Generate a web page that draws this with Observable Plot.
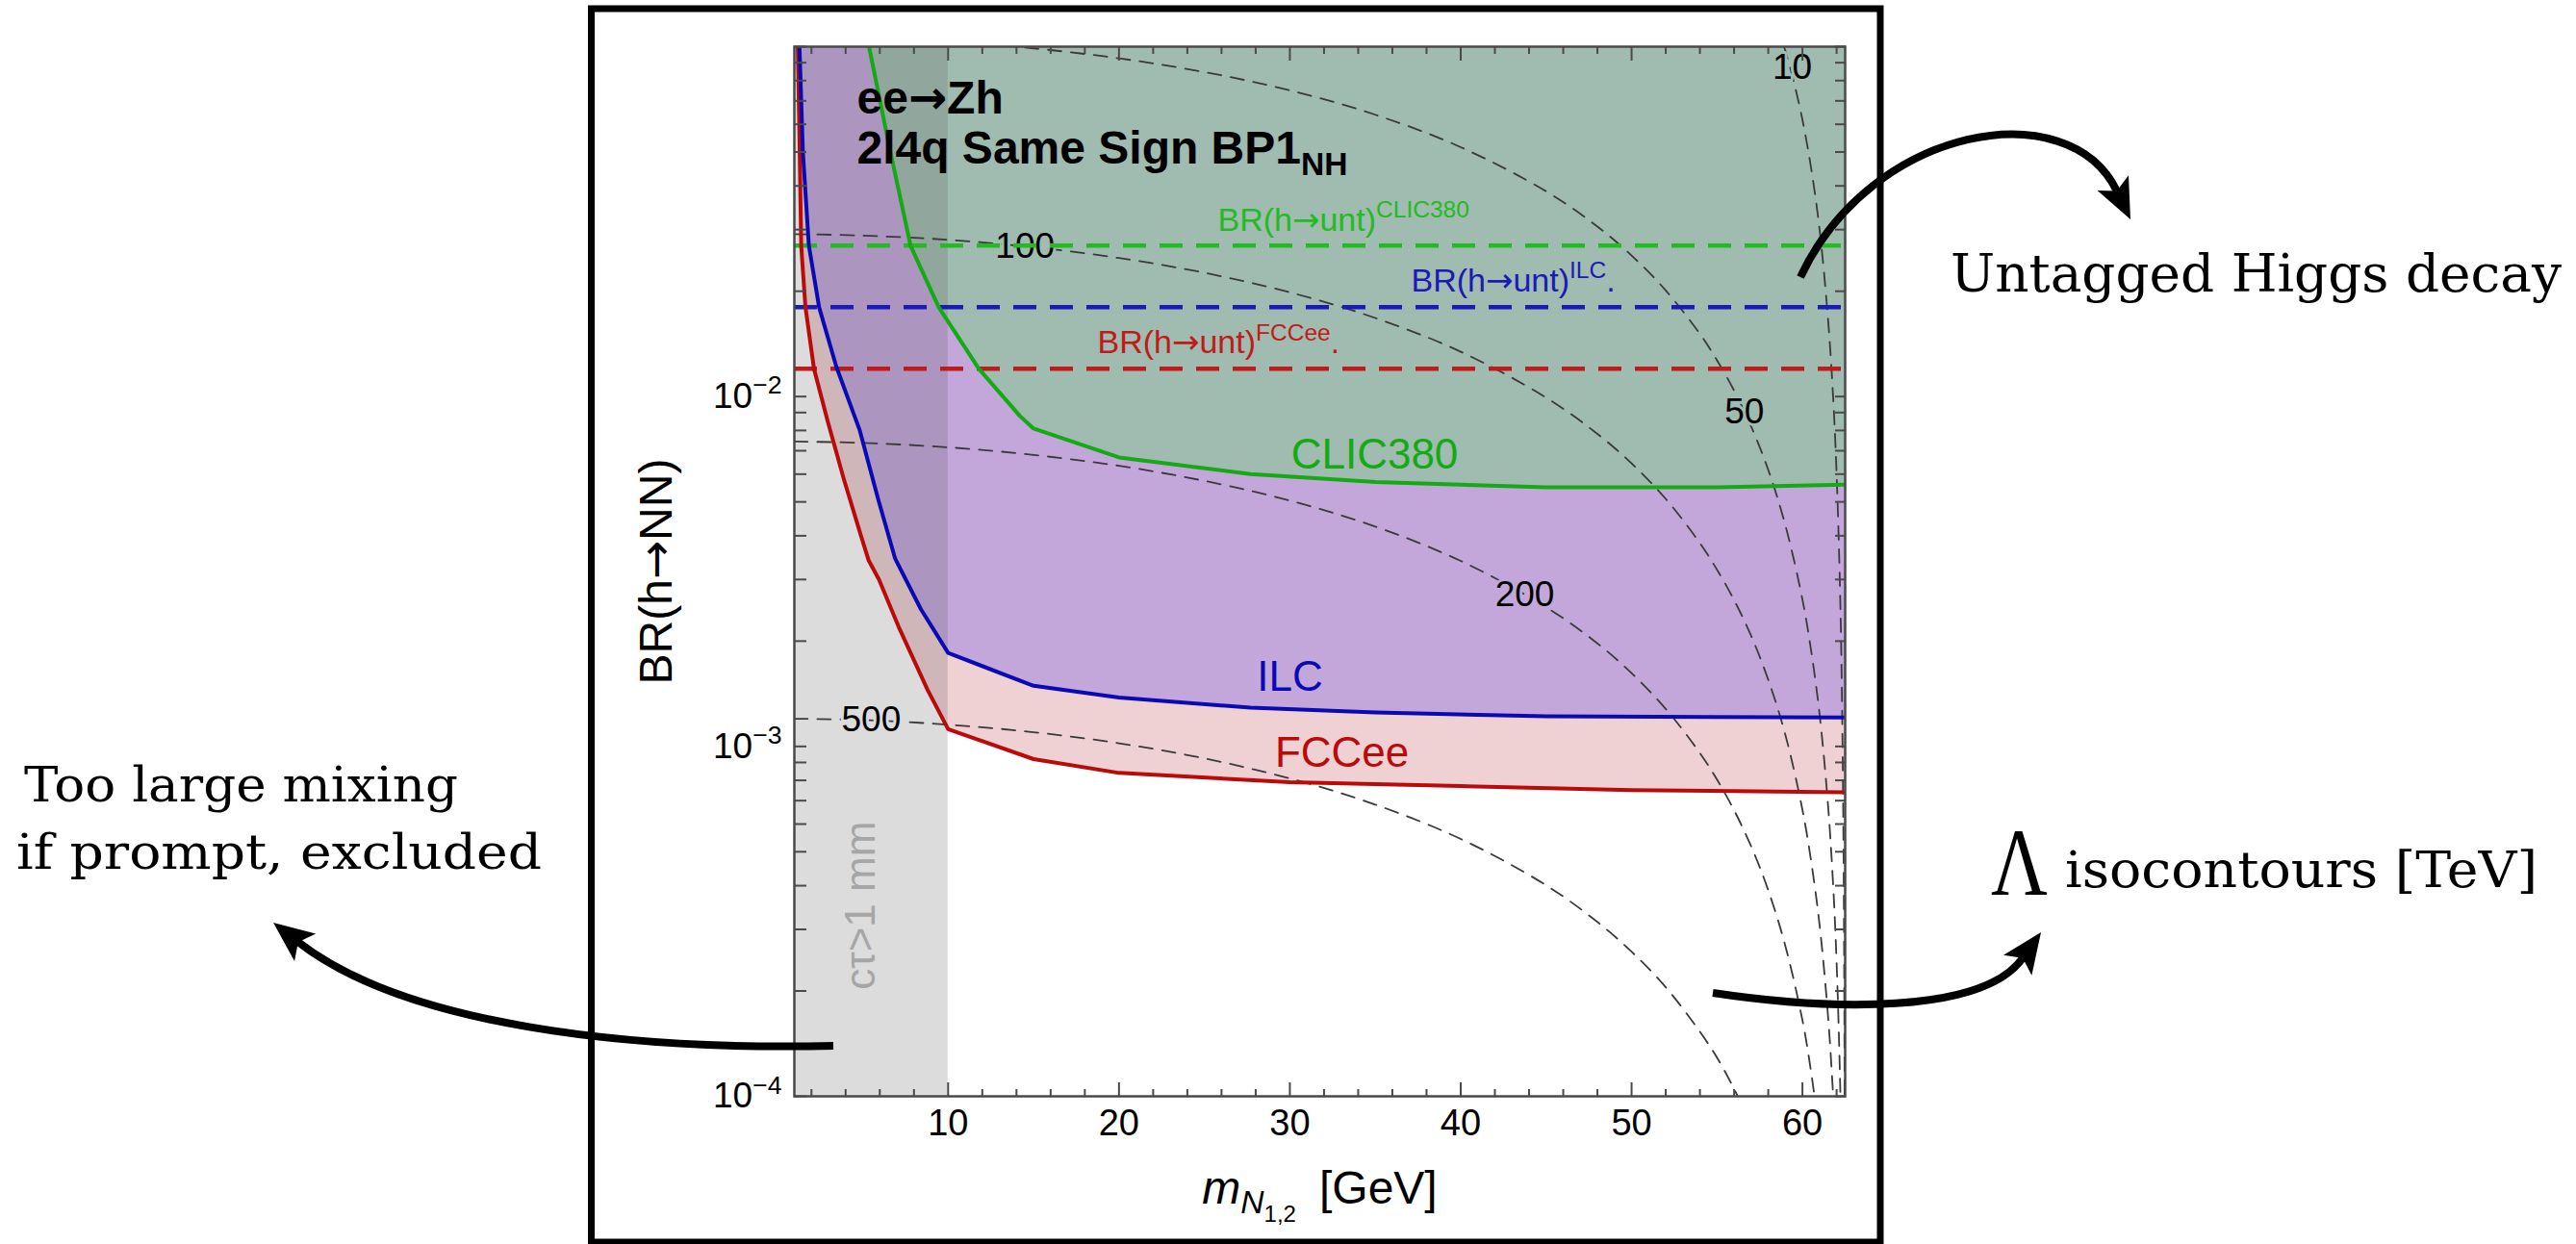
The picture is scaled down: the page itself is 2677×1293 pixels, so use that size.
<!DOCTYPE html>
<html>
<head>
<meta charset="utf-8">
<script src="https://cdn.jsdelivr.net/npm/d3@7"></script>
<script src="https://cdn.jsdelivr.net/npm/@observablehq/plot@0.6"></script>
<style>
  html, body { margin: 0; padding: 0; background: #fff; overflow: hidden; }
  #chart { width: 2677px; height: 1293px; }
</style>
</head>
<body>
<div id="chart"></div>
<script>
// ---------------- data ----------------
const massDomain = [1, 62.5];
const brDomain = [1e-4, 1e-1];
const massTicks = [10, 20, 30, 40, 50, 60];
const massMinorTicks = [2,4,6,8,12,14,16,18,22,24,26,28,32,34,36,38,42,44,46,48,52,54,56,58,62];
const brTicks = [1e-4, 1e-3, 1e-2, 1e-1];
const brMinorTicks = [2e-4,3e-4,4e-4,5e-4,6e-4,7e-4,8e-4,9e-4,
                      2e-3,3e-3,4e-3,5e-3,6e-3,7e-3,8e-3,9e-3,
                      2e-2,3e-2,4e-2,5e-2,6e-2,7e-2,8e-2,9e-2];
const brTickLabels = [[1e-4, "10^{−4}"], [1e-3, "10^{−3}"], [1e-2, "10^{−2}"]];

// c*tau > 1 mm region (mass range)
const promptBand = [[1, 10]];

// untagged Higgs decay BR per collider
const untaggedColliders = ["CLIC380", "ILC", "FCCee"];
const untaggedBR = [0.027, 0.018, 0.012];

// exclusion limits  [m_N (GeV), BR(h->NN)]
const clicLimit = [[5.37,0.1],[6.55,0.052],[7.8,0.027],[9.45,0.018],[11.8,0.012],[14.2,0.0088],[15,0.0081],
  [20,0.0067],[27.7,0.0060],[35,0.0057],[45,0.0055],[55,0.0055],[62.5,0.0056]];
const ilcLimit = [[1.3,0.1],[1.5,0.05],[1.85,0.027],[2.45,0.018],[3.45,0.0122],[4.83,0.0080],[5.9,0.0051],
  [6.9,0.00344],[8.4,0.00247],[10,0.00185],[15,0.00149],[20,0.00138],[27.7,0.00129],[35,0.00125],[45,0.00122],[62.5,0.00121]];
const fccLimit = [[1.2,0.1],[1.3,0.055],[1.4,0.027],[1.65,0.018],[2.15,0.012],[2.95,0.0085],[3.9,0.0058],[4.9,0.0040],
  [5.35,0.0034],[5.95,0.0030],[7.1,0.0022],[8.8,0.00145],[10,0.00112],[15,0.00092],[20,0.00084],[30,0.00079],
  [40,0.00077],[50,0.00075],[62.5,0.00074]];

// Lambda iso-contours [TeV]
const lambda10 = [[58,0.134],[58.5,0.1157],[59,0.0973],[59.5,0.0792],[60,0.0618],[60.5,0.0452],[61,0.0301],[61.5,0.0166],
  [61.8,0.00988],[62,0.0060],[62.2,0.0028],[62.3,0.00153],[62.4,0.00054],[62.45,0.00019],[62.48,0.0000486]];
const lambda50 = [[1,0.1071],[5,0.1062],[10,0.1035],[15,0.0989],[20,0.0926],[25,0.0846],[30,0.0750],[35,0.0639],[40,0.0516],
  [45,0.0386],[48,0.0306],[50,0.0253],[52,0.0201],[54,0.0151],[55,0.0127],[56,0.0104],[57,0.00821],[58,0.00617],[59,0.00429],
  [60,0.00263],[60.5,0.00189],[61,0.00124],[61.5,0.000677],[61.8,0.000399],[62,0.000241],[62.2,0.000112],[62.3,0.0000613]];
const lambda100 = [[1,0.02912],[5,0.02885],[10,0.02805],[15,0.02671],[20,0.02488],[25,0.02258],[30,0.01985],[35,0.01677],
  [40,0.01343],[45,0.00993],[48,0.00782],[50,0.00644],[52,0.00510],[54,0.00381],[55,0.00320],[56,0.00262],[57,0.00207],
  [58,0.00155],[59,0.00108],[60,0.000659],[60.5,0.000473],[61,0.000310],[61.5,0.000169],[61.8,0.0000998],[61.9,0.0000792]];
const lambda200 = [[1,0.00744],[5,0.00737],[10,0.00716],[15,0.00681],[20,0.00634],[25,0.00574],[30,0.00504],[35,0.00425],
  [40,0.00339],[45,0.00250],[48,0.00197],[50,0.00162],[52,0.00128],[54,0.000957],[55,0.000804],[56,0.000657],[57,0.000518],
  [58,0.000388],[59,0.000269],[60,0.000165],[60.5,0.000118],[61,0.0000775]];
const lambda500 = [[1,0.00120],[5,0.00119],[10,0.001154],[15,0.001098],[20,0.001021],[25,0.000924],[30,0.000810],[35,0.000682],
  [40,0.000544],[45,0.000401],[48,0.000315],[50,0.000259],[52,0.000205],[54,0.000153],[55,0.000129],[56,0.000105],[57,0.0000828]];
const contourLabels = [[59.4,0.0873,"10"],[56.6,0.00902,"50"],[14.5,0.0268,"100"],[43.75,0.00271,"200"],[5.5,0.00119,"500"]];

// texts
const titleLines = [[4.66, 0.0646, "ee→Zh"], [4.66, 0.0462, "2l4q Same Sign BP1_{NH}"]];
const untaggedLabels = [[25.78, 0.0298, "BR(h→unt)^{CLIC380}"], [37.1, 0.0200, "BR(h→unt)^{ILC}."], [18.74, 0.01327, "BR(h→unt)^{FCCee}."]];
const limitLabels = [[34.96, 0.00621, "CLIC380"], [30.0, 0.00144, "ILC"], [33.05, 0.000872, "FCCee"]];
const bandLabel = [[4.9, 0.000351, "cτ>1 mm"]];
const xTitle = "m_{N1,2} [GeV]";
const yTitle = "BR(h→NN)";

// ---------------- styles ----------------
const SANS = "'Liberation Sans', Arial, Helvetica, sans-serif";
const SERIF = "'DejaVu Serif', 'Liberation Serif', serif";
const AX = "#4a4a4a";
const C = {
  green: "#14aa14", blue: "#0a0ab4", red: "#bb0a0a",
  greenD: "#22bb22", blueD: "#1a1ab8", redD: "#c01a1a",
  pink: "#efd1d3", purple: "#c3a7db", greenFill: "#a0bbaf"
};
const untaggedColors = [C.greenD, C.blueD, C.redD];
const labelHalo = ["#a0bbaf", "#a0bbaf", "#a0bbaf", "#c3a7db", "#dcdcdc"];

const X = d => d[0], Y = d => d[1];
const contourStyle = {x: X, y: Y, stroke: "#3a3a3a", strokeWidth: 1.8, strokeDasharray: "14,10", curve: "catmull-rom", clip: true};
const noText = () => "";

const plot = Plot.plot({
  width: 2677, height: 1293,
  marginLeft: 825, marginRight: 760, marginTop: 48, marginBottom: 154,
  x: {domain: massDomain},
  y: {type: "log", domain: brDomain},
  style: {fontFamily: SANS, background: "#fff", color: "#000"},
  marks: [
    // excluded regions
    Plot.areaY(fccLimit, {x: X, y1: Y, y2: () => brDomain[1], fill: C.pink}),
    Plot.areaY(ilcLimit, {x: X, y1: Y, y2: () => brDomain[1], fill: C.purple}),
    Plot.areaY(clicLimit, {x: X, y1: Y, y2: () => brDomain[1], fill: C.greenFill}),
    // c tau > 1 mm band
    Plot.rect(promptBand, {x1: d => d[0], x2: d => d[1], y1: () => brDomain[0], y2: () => brDomain[1], fill: "#5a5a5a", fillOpacity: 0.21}),
    Plot.text(bandLabel, {x: X, y: Y, text: d => d[2], rotate: -90, fontSize: 44, fill: "#a6a6a6", lineAnchor: "middle", textAnchor: "middle"}),
    // Lambda isocontours
    Plot.line(lambda10, contourStyle),
    Plot.line(lambda50, contourStyle),
    Plot.line(lambda100, contourStyle),
    Plot.line(lambda200, contourStyle),
    Plot.line(lambda500, contourStyle),
    Plot.text(contourLabels, {x: X, y: Y, text: d => d[2], fontSize: 37, fill: "#000", lineAnchor: "middle",
      stroke: (d, i) => labelHalo[i], strokeWidth: 6}),
    // untagged Higgs decays
    Plot.ruleY(untaggedBR, {y: d => d, stroke: (d, i) => untaggedColors[i], strokeWidth: 4.5, strokeDasharray: "24,14"}),
    Plot.text(untaggedLabels, {x: X, y: Y, text: d => d[2], fontSize: 34, textAnchor: "start", lineAnchor: "bottom",
      fill: (d, i) => untaggedColors[i]}),
    // exclusion curves
    Plot.line(fccLimit, {x: X, y: Y, stroke: C.red, strokeWidth: 4, clip: true}),
    Plot.line(ilcLimit, {x: X, y: Y, stroke: C.blue, strokeWidth: 4, clip: true}),
    Plot.line(clicLimit, {x: X, y: Y, stroke: C.green, strokeWidth: 4, clip: true}),
    Plot.text(limitLabels, {x: X, y: Y, text: d => d[2], fontSize: 44, lineAnchor: "bottom",
      fill: (d, i) => [C.green, C.blue, C.red][i]}),
    // title
    Plot.text(titleLines, {x: X, y: Y, text: d => d[2], fontSize: 48, fontWeight: "bold", textAnchor: "start", lineAnchor: "bottom", fill: "#000"}),
    // axes (ticks inside, on all four sides)
    Plot.axisX({anchor: "bottom", ticks: massTicks, tickSize: -14, tickFormat: noText, label: null, stroke: AX, strokeWidth: 2}),
    Plot.axisX({anchor: "bottom", ticks: massMinorTicks, tickSize: -7, tickFormat: noText, label: null, stroke: AX, strokeWidth: 2}),
    Plot.axisX({anchor: "top", ticks: massTicks, tickSize: -14, tickFormat: noText, label: null, stroke: AX, strokeWidth: 2}),
    Plot.axisX({anchor: "top", ticks: massMinorTicks, tickSize: -7, tickFormat: noText, label: null, stroke: AX, strokeWidth: 2}),
    Plot.axisY({anchor: "left", ticks: brTicks.concat(brMinorTicks), tickSize: -13, tickFormat: noText, label: null, stroke: AX, strokeWidth: 2}),
    Plot.axisY({anchor: "right", ticks: brTicks.concat(brMinorTicks), tickSize: -11, tickFormat: noText, label: null, stroke: AX, strokeWidth: 2}),
    Plot.frame({stroke: AX, strokeWidth: 2.5}),
    // tick labels and axis titles
    Plot.text(massTicks, {x: d => d, frameAnchor: "bottom", dy: 28, text: d => String(d), fontSize: 38, lineAnchor: "middle", fill: "#000"}),
    Plot.text(brTickLabels, {y: X, frameAnchor: "left", dx: -13, text: d => d[1], fontSize: 37, textAnchor: "end", lineAnchor: "middle", fill: "#000"}),
    Plot.text([xTitle], {frameAnchor: "bottom", dy: 111, text: d => d, fontSize: 48, textAnchor: "middle", lineAnchor: "bottom", fill: "#000"}),
    Plot.text([yTitle], {frameAnchor: "left", dx: -143, text: d => d, rotate: -90, fontSize: 48, textAnchor: "middle", lineAnchor: "middle", fill: "#000"})
  ]
});

document.getElementById("chart").appendChild(plot);

// ---------- rich text (super/subscripts, long arrows) ----------
const RICH = {
  "m_{N1,2} [GeV]": [{t: "m", i: 1}, {t: "N", i: 1, s: 0.7, dy: 0.22}, {t: "1,2", s: 0.5, dy: 0.4}, {t: "\u2002[GeV]", dy: 0}]
};
function parseMarkup(s) {
  const out = []; const re = /(\^\{[^}]*\}|_\{[^}]*\})/g; let last = 0, m;
  while ((m = re.exec(s))) {
    if (m.index > last) out.push({t: s.slice(last, m.index)});
    const inner = m[0].slice(2, -1);
    out.push(m[0][0] === "^" ? {t: inner, s: 0.72, dy: -0.4} : {t: inner, s: 0.7, dy: 0.25});
    last = re.lastIndex;
  }
  if (last < s.length) out.push({t: s.slice(last)});
  const res = [];
  out.forEach(g => {
    g.t.split(/(→)/).forEach(p => { if (p) res.push(Object.assign({}, g, {t: p, f: p === "→" ? "'DejaVu Sans', sans-serif" : null})); });
  });
  return res;
}
plot.querySelectorAll("text").forEach(t => {
  const s = t.textContent;
  if (!s || (!RICH[s] && !/[\^_]\{|→/.test(s))) return;
  const segs = RICH[s] || parseMarkup(s);
  const fs = parseFloat(getComputedStyle(t).fontSize);
  t.textContent = "";
  let cur = 0;
  segs.forEach(g => {
    const ts = document.createElementNS("http://www.w3.org/2000/svg", "tspan");
    ts.textContent = g.t;
    if (g.s && g.s !== 1) ts.setAttribute("font-size", (fs * g.s).toFixed(1));
    if (g.i) ts.setAttribute("font-style", "italic");
    if (g.f) ts.setAttribute("font-family", g.f);
    const shift = (g.dy || 0) * fs;
    if (shift !== cur) { ts.setAttribute("dy", (shift - cur).toFixed(1)); cur = shift; }
    t.appendChild(ts);
  });
});

// ---------- annotations around the panel (pixel layout) ----------
const svg = d3.select(plot);
const ann = svg.append("g").attr("class", "annotations").attr("text-anchor", "start");
ann.append("rect").attr("x", 614.5).attr("y", 9).attr("width", 1339.5).attr("height", 1282)
  .attr("fill", "none").attr("stroke", "#000").attr("stroke-width", 7);

function serifText(x, y, str, size, len, family = SERIF) {
  ann.append("text").attr("x", x).attr("y", y).attr("font-family", family).attr("font-size", size)
    .attr("text-anchor", "start").attr("fill", "#000")
    .attr("textLength", len).attr("lengthAdjust", "spacingAndGlyphs").text(str);
}
serifText(2027, 303, "Untagged Higgs decay", 55, 635);
serifText(25, 833, "Too large mixing", 51, 451);
serifText(17, 903, "if prompt, excluded", 51, 546);
serifText(2069, 930, "Λ", 100, 59, "'Liberation Serif', serif");
serifText(2146, 922, "isocontours [TeV]", 53, 491);

function arrow(p0, c1, c2, p3, headL = 42, headW = 36, sw = 8) {
  const tx = p3[0] - c2[0], ty = p3[1] - c2[1], n = Math.hypot(tx, ty);
  const ux = tx / n, uy = ty / n, px = -uy, py = ux;
  const bx = p3[0] - ux * headL, by = p3[1] - uy * headL;
  const nx = bx + ux * headL * 0.22, ny = by + uy * headL * 0.22;
  ann.append("path").attr("d", `M${p0}C${c1} ${c2} ${nx},${ny}`)
    .attr("fill", "none").attr("stroke", "#000").attr("stroke-width", sw);
  ann.append("path")
    .attr("d", `M${p3}L${bx + px * headW / 2},${by + py * headW / 2}L${nx},${ny}L${bx - px * headW / 2},${by - py * headW / 2}Z`)
    .attr("fill", "#000");
}
arrow([1871, 288], [1945, 130], [2150, 95], [2214, 228]);
arrow([866, 1087], [650, 1092], [420, 1065], [284, 959]);
arrow([1780, 1032], [1900, 1050], [2060, 1055], [2121, 969]);
</script>
</body>
</html>
